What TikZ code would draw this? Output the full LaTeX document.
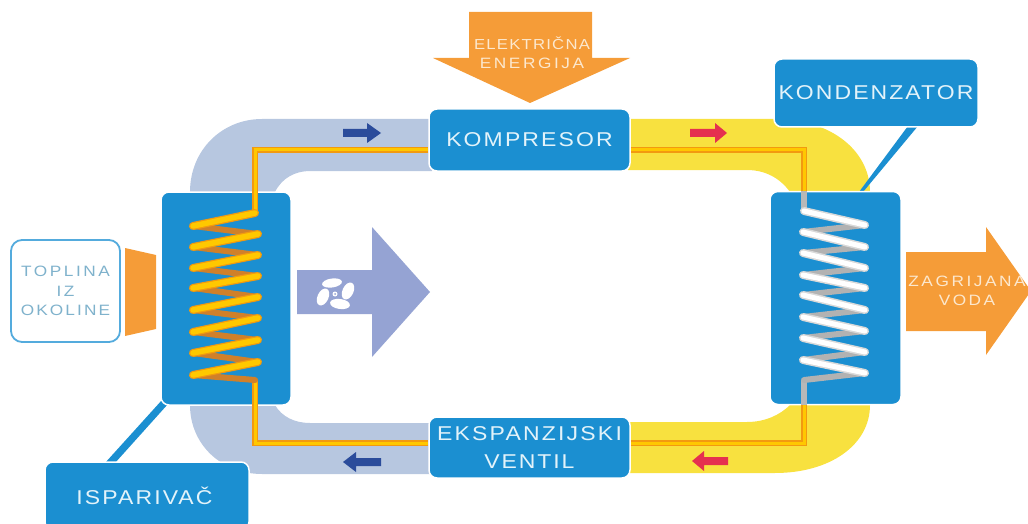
\documentclass[tikz,border=0pt]{standalone}
\usepackage{fontspec}
\setmainfont{Liberation Sans}
\definecolor{boxblue}{HTML}{1B8FD1}
\definecolor{ductgray}{HTML}{B7C7E0}
\definecolor{ductyellow}{HTML}{F8E13F}
\definecolor{warm}{HTML}{F59C38}
\definecolor{fanblue}{HTML}{95A3D3}
\definecolor{navy}{HTML}{2B4C9B}
\definecolor{crimson}{HTML}{E5304F}
\definecolor{boxtext}{HTML}{E3F3FA}
\definecolor{softtext}{HTML}{7FB2CC}
\definecolor{warmtext}{HTML}{FCE8CE}
\definecolor{pipeedge}{HTML}{F29A10}
\definecolor{pipefill}{HTML}{FFC800}
\definecolor{coilback}{HTML}{D0802A}
\newcommand{\spaced}[3]{{\fontsize{#1}{#1}\selectfont\addfontfeature{LetterSpace=#2,FakeStretch=1.15}#3}}
\tikzset{
  bluebox/.style={fill=boxblue,draw=white,line width=1.5pt,rounded corners=8pt,text=boxtext,align=center,inner sep=0pt},
  softbox/.style={fill=white,draw=boxblue!75,line width=1.8pt,rounded corners=11pt,text=softtext,align=center,inner sep=0pt},
  warmlabel/.style={text=warmtext,align=center,inner sep=0pt},
  pipeout/.style={draw=pipeedge,line width=5.5pt,line join=miter},
  pipein/.style={draw=pipefill,line width=3pt,line join=miter},
  greyout/.style={draw=black!28,line width=5.5pt},
}
\begin{document}
\begin{tikzpicture}[x=1pt,y=-1pt]
\clip (0,0) rectangle (1028,524);
% ducts
\fill[ductgray] (432,119) -- (262,119) .. controls (222,119) and (190,150) .. (190,192) -- (275,192) .. controls (282,178) and (295,171) .. (310,171) -- (432,171) -- cycle;
\fill[ductgray] (432,474) -- (262,474) .. controls (222,474) and (190,445) .. (190,405) -- (275,405) .. controls (282,417) and (295,423) .. (310,423) -- (432,423) -- cycle;
\fill[ductyellow] (628,119) -- (775,119) .. controls (830,119) and (870,150) .. (870,192) -- (790,192) .. controls (780,178) and (765,170) .. (747,170) -- (628,170) -- cycle;
\fill[ductyellow] (628,473) -- (775,473) .. controls (830,473) and (870,445) .. (870,405) -- (790,405) .. controls (780,415) and (765,422) .. (747,422) -- (628,422) -- cycle;
% arrows of flow
\fill[navy] (343,129) -- (367,129) -- (367,123) -- (381,133) -- (367,143) -- (367,137) -- (343,137) -- cycle;
\fill[crimson] (690,129) -- (715,129) -- (715,123) -- (727,133) -- (715,143) -- (715,137) -- (690,137) -- cycle;
\fill[navy] (381,458) -- (356,458) -- (356,452) -- (343,462) -- (356,472) -- (356,466) -- (381,466) -- cycle;
\fill[crimson] (728,457) -- (704,457) -- (704,451) -- (692,461) -- (704,471) -- (704,465) -- (728,465) -- cycle;
% big arrows
\fill[warm] (469,12) -- (592,12) -- (592,58) -- (630,58) -- (530,103) -- (433,58) -- (469,58) -- cycle;
\fill[warm] (906,252) -- (986,252) -- (986,227) -- (1031,291) -- (986,355) -- (986,331) -- (906,331) -- cycle;
\fill[warm] (125,248) -- (156,255) -- (156,329) -- (125,336) -- cycle;
\fill[fanblue] (297,270) -- (372,270) -- (372,227) -- (430,292) -- (372,357) -- (372,314) -- (297,314) -- cycle;
% fan
\fill[white,rotate around={8:(332,283)}] (332,283) ellipse (10 and 4.5);
\fill[white,rotate around={-8:(340,304)}] (340,304) ellipse (10 and 5);
\fill[white,rotate around={65:(323,297)}] (323,297) ellipse (9 and 5.5);
\fill[white,rotate around={65:(348,291)}] (348,291) ellipse (9 and 5.5);
\fill[white] (335,294) circle (2.5);
\fill[fanblue] (335,294) circle (1);
% callout stems
\fill[boxblue] (162,400) -- (105,463) -- (115,463) -- (168,404) -- cycle;
\fill[boxblue] (908,126) -- (918,126) -- (863,192) -- (859,192) -- cycle;
% boxes
\node[bluebox,minimum width=130pt,minimum height=213pt] (evap) at (226,298.5) {};
\node[bluebox,minimum width=131pt,minimum height=213pt] (cond) at (835.5,298) {};
\node[bluebox,minimum width=201pt,minimum height=62pt] (komp) at (529.5,140) {\spaced{20}{10.6}{KOMPRESOR}};
\node[bluebox,minimum width=201pt,minimum height=61pt] (vent) at (529.5,447.5) {\spaced{20}{11}{EKSPANZIJSKI}\\[13pt]\spaced{20}{9.5}{VENTIL}};
\node[bluebox,minimum width=204pt,minimum height=68pt] (ispa) at (147,496) {\kern-5pt\spaced{20}{10.5}{ISPARIVAČ}};
\node[bluebox,minimum width=204pt,minimum height=68pt] (kond) at (876,93) {\spaced{20}{10.3}{KONDENZATOR}};
\node[softbox,minimum width=109pt,minimum height=102pt] (topl) at (65.5,291) {\spaced{15}{17}{TOPLINA}\\[7.5pt]\spaced{15}{17}{IZ}\\[7.5pt]\spaced{15}{14}{OKOLINE}};
\node[warmlabel] (elek) at (532,52.5) {\spaced{14.5}{8.5}{ELEKTRIČNA}\\[7pt]\spaced{15}{17}{ENERGIJA}};
\node[warmlabel] (zagr) at (967,290.5) {\spaced{15}{17}{ZAGRIJANA}\\[7pt]\spaced{15}{16}{VODA}};
% coordinates of the coils
\coordinate (et) at (255,213);
\coordinate (eb) at (255,380);
\coordinate (ct) at (804,211);
\coordinate (cb) at (804,380);
% pipes
\foreach \sty in {pipeout,pipein}{
  \draw[\sty] ([yshift=-10pt]komp.west) -- (255,150) -- (et);
  \draw[\sty] ([yshift=4.5pt]vent.west) -- (255,443) -- (eb);
  \draw[\sty] ([yshift=-10pt]komp.east) -- (804,150) -- (804,192);
  \draw[\sty] ([yshift=4.5pt]vent.east) -- (804,443) -- (804,404);
}
% evaporator coil
\foreach \a/\b/\c/\d in {193/226/258/234,193/247/258/255,193/268/258/276,193/288/258/297,193/310/258/318,193/332/258/340,193/353/258/362,193/375/255/380}{
  \draw[draw=coilback,line width=6pt,line cap=round] (\a,\b) -- (\c,\d);
}
\foreach \a/\b/\c/\d in {255/213/193/226,258/234/193/247,258/255/193/268,258/276/193/288,258/297/193/310,258/318/193/332,258/340/193/353,258/362/193/375}{
  \draw[draw=pipeedge,line width=8pt,line cap=round] (\a,\b) -- (\c,\d);
  \draw[draw=pipefill,line width=5.5pt,line cap=round] (\a,\b) -- (\c,\d);
}
% condenser coil
\draw[greyout] (cond.north -| ct) -- (ct);
\draw[greyout] (cond.south -| cb) -- (cb);
\foreach \a/\b/\c/\d in {865/225/803/232,865/247/803/253,865/268/803/275,865/288/803/295,865/310/803/317,865/331/803/338,865/352/803/360,865/373/804/380}{
  \draw[draw=black!30,line width=6pt,line cap=round] (\a,\b) -- (\c,\d);
}
\foreach \a/\b/\c/\d in {804/211/865/225,803/232/865/247,803/253/865/268,803/275/865/288,803/295/865/310,803/317/865/331,803/338/865/352,803/360/865/373}{
  \draw[draw=black!15,line width=8pt,line cap=round] (\a,\b) -- (\c,\d);
  \draw[draw=white,line width=5pt,line cap=round] (\a,\b) -- (\c,\d);
}
\end{tikzpicture}
\end{document}
